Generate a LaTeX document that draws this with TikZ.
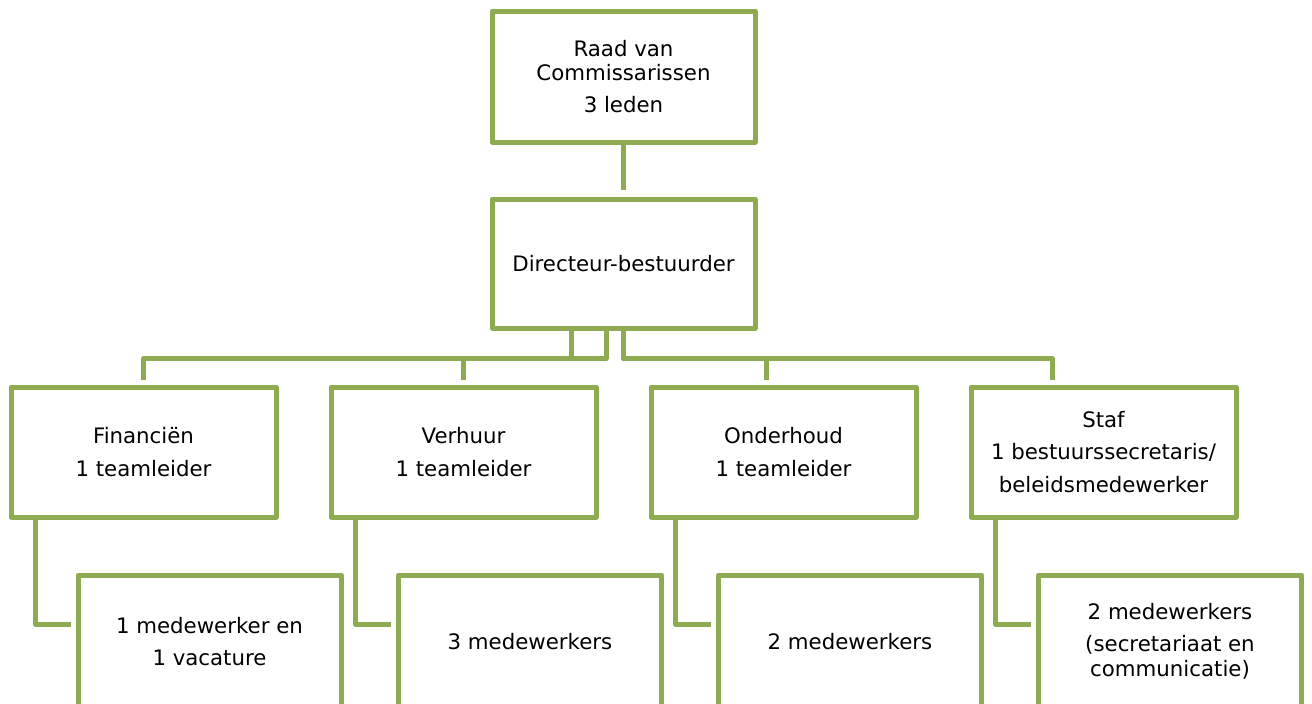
\documentclass[tikz,border=0pt]{standalone}
\usepackage{fontspec}
\setmainfont{DejaVu Sans}
\usetikzlibrary{calc}
\definecolor{orgolive}{RGB}{143,171,82}
\begin{document}
\begin{tikzpicture}[x=1pt,y=-1pt,
  box/.style={draw=orgolive, line width=5pt, line join=round, rectangle, inner sep=0pt,
    align=center, font=\fontsize{21.3}{24.5}\selectfont, text=black},
  topbox/.style={box, minimum width=263pt},
  midbox/.style={box, minimum width=265pt, minimum height=130pt},
  lowbox/.style={box, minimum width=263pt, minimum height=133pt},
  link/.style={draw=orgolive, line width=5pt, line join=round}
]
\useasboundingbox (0,0) rectangle (1312,704);
\fill[white] (0,0) rectangle (1312,704);

\node[topbox, minimum height=131pt] (rvc) at (623.5,76.5) {Raad van\\Commissarissen\\[7.5pt]3 leden};
\node[topbox, minimum height=129pt] (dir) at (623.5,263.5) {Directeur-bestuurder};

\node[midbox] (fin) at (143.5,452) {Financiën\\[8pt]1 teamleider};
\node[midbox] (ver) at (463.5,452) {Verhuur\\[8pt]1 teamleider};
\node[midbox] (ond) at (783.5,452) {Onderhoud\\[8pt]1 teamleider};
\node[midbox] (staf) at (1103.5,452) {Staf\\[8pt]1 bestuurssecretaris/\\[8pt]beleidsmedewerker};

\node[lowbox] (finc) at (209.5,641.5) {1 medewerker en\\[7pt]1 vacature};
\node[lowbox] (verc) at (530,641.5) {3 medewerkers};
\node[lowbox] (ondc) at (850,641.5) {2 medewerkers};
\node[lowbox] (stafc) at (1170,641.5) {2 medewerkers\\[7.5pt](secretariaat en\\communicatie)};

\draw[link] (rvc.south) -- ($(dir.north)+(0,-7)$);

\draw[link] ($(dir.south)+(-52.5,0)$) -- ++(0,28) -| ($(fin.north)+(0,-5)$);
\draw[link] ($(dir.south)+(-17.5,0)$) -- ++(0,28) -| ($(ver.north)+(0,-5)$);
\draw[link] (dir.south) -- ++(0,28) -| ($(ond.north)+(-17.5,-5)$);
\draw[link] (dir.south) -- ++(0,28) -| ($(staf.north)+(-51.5,-5)$);

\draw[link] ($(fin.south west)+(27,0)$) |- ($(finc.north west)+(-5,52)$);
\draw[link] ($(ver.south west)+(27,0)$) |- ($(verc.north west)+(-5,52)$);
\draw[link] ($(ond.south west)+(27,0)$) |- ($(ondc.north west)+(-5,52)$);
\draw[link] ($(staf.south west)+(27,0)$) |- ($(stafc.north west)+(-5,52)$);
\end{tikzpicture}
\end{document}
